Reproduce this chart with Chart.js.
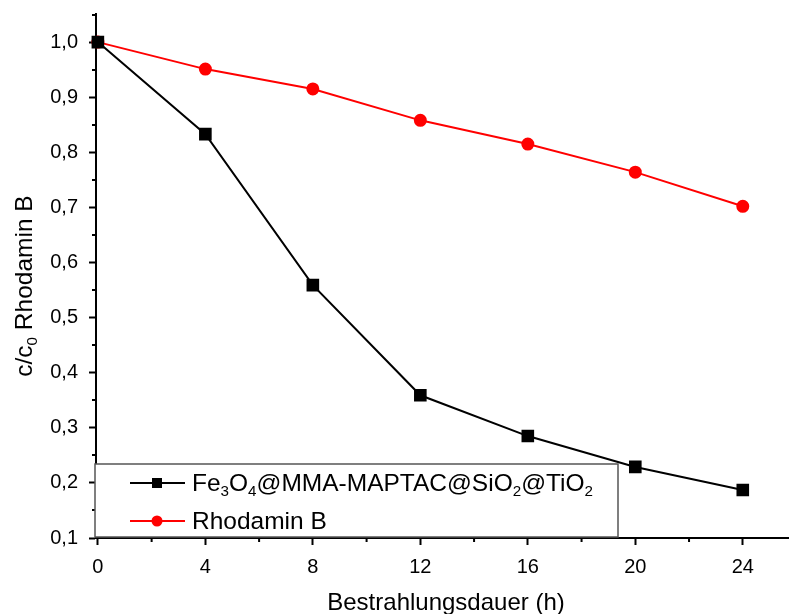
<!DOCTYPE html>
<html lang="de">
<head>
<meta charset="UTF-8">
<title>Abbau Rhodamin B</title>
<script src="https://cdn.jsdelivr.net/npm/chart.js@4.4.1/dist/chart.umd.min.js"></script>
<style>
  body { margin: 0; background: #fff; }
  #chart { display: block; }
</style>
</head>
<body>
<canvas id="chart" width="789" height="614"></canvas>
<script>
  const hours = [0, 4, 8, 12, 16, 20, 24];
  const catalyst = [1.0, 0.833, 0.559, 0.359, 0.285, 0.229, 0.187];
  const rhodamine = [1.0, 0.951, 0.915, 0.858, 0.815, 0.764, 0.702];
  const xTicks = [0, 4, 8, 12, 16, 20, 24];
  const yTicks = [0.1, 0.2, 0.3, 0.4, 0.5, 0.6, 0.7, 0.8, 0.9, 1.0];

  const FONT = '"Liberation Sans", Arial, sans-serif';

  // text with subscripts: parts are [text, isSub]
  function drawRich(ctx, parts, x, y, size) {
    parts.forEach(([t, sub]) => {
      ctx.font = (sub ? size * 0.62 : size) + 'px ' + FONT;
      ctx.fillText(t, x, y + (sub ? size * 0.3 : 0));
      x += ctx.measureText(t).width;
    });
    return x;
  }

  function richWidth(ctx, parts, size) {
    let w = 0;
    parts.forEach(([t, sub]) => {
      ctx.font = (sub ? size * 0.62 : size) + 'px ' + FONT;
      w += ctx.measureText(t).width;
    });
    return w;
  }

  const decor = {
    id: 'decor',
    afterDraw(chart) {
      const ctx = chart.ctx;
      const xs = chart.scales.x, ys = chart.scales.y;
      const area = chart.chartArea;
      ctx.save();
      // minor ticks
      ctx.strokeStyle = '#000';
      ctx.lineWidth = 2;
      ctx.beginPath();
      for (let v = 0.15; v < 1.05; v += 0.1) {
        const py = Math.round(ys.getPixelForValue(v));
        ctx.moveTo(area.left - 4, py);
        ctx.lineTo(area.left, py);
      }
      for (let h = 2; h <= 26; h += 4) {
        const px = xs.getPixelForValue(h);
        if (px > area.right) break;
        ctx.moveTo(px, area.bottom);
        ctx.lineTo(px, area.bottom + 4);
      }
      ctx.stroke();

      // legend box
      const bx = area.left - 1, by = 464, bw = 523, bh = 73;
      ctx.fillStyle = '#fff';
      ctx.fillRect(bx, by, bw, bh);
      ctx.strokeStyle = '#555';
      ctx.lineWidth = 1.5;
      ctx.strokeRect(bx, by, bw, bh);

      const items = [
        { color: '#000', style: 'rect', y: 483,
          parts: [['Fe', 0], ['3', 1], ['O', 0], ['4', 1], ['@MMA-MAPTAC@SiO', 0], ['2', 1], ['@TiO', 0], ['2', 1]] },
        { color: '#ff0000', style: 'circle', y: 521, parts: [['Rhodamin B', 0]] }
      ];
      items.forEach(it => {
        ctx.strokeStyle = it.color;
        ctx.fillStyle = it.color;
        ctx.lineWidth = 2;
        ctx.beginPath();
        ctx.moveTo(130, it.y);
        ctx.lineTo(185, it.y);
        ctx.stroke();
        ctx.beginPath();
        if (it.style === 'rect') ctx.rect(152, it.y - 5, 10, 10);
        else ctx.arc(157, it.y, 5.5, 0, Math.PI * 2);
        ctx.fill();
        ctx.fillStyle = '#000';
        ctx.textBaseline = 'middle';
        ctx.textAlign = 'left';
        drawRich(ctx, it.parts, 192, it.y + 1, 24.5);
      });

      // axis titles
      ctx.fillStyle = '#000';
      ctx.textBaseline = 'middle';
      ctx.textAlign = 'center';
      ctx.font = '24px ' + FONT;
      ctx.fillText('Bestrahlungsdauer (h)', 446, 603);

      const yParts = [['c/c', 0], ['0', 1], [' Rhodamin B', 0]];
      ctx.translate(25, 286);
      ctx.rotate(-Math.PI / 2);
      ctx.textAlign = 'left';
      drawRich(ctx, yParts, -richWidth(ctx, yParts, 24.5) / 2, 0, 24.5);
      ctx.restore();
    }
  };

  const tickFmt = v => v.toFixed(1).replace('.', ',');

  new Chart(document.getElementById('chart'), {
    type: 'line',
    data: {
      labels: hours,
      datasets: [
        {
          label: 'Fe3O4@MMA-MAPTAC@SiO2@TiO2',
          data: hours.map((h, i) => ({ x: h, y: catalyst[i] })),
          borderColor: '#000',
          backgroundColor: '#000',
          borderWidth: 2,
          pointStyle: 'rect',
          pointRadius: 7.5,
          pointHoverRadius: 7.5,
          clip: false
        },
        {
          label: 'Rhodamin B',
          data: hours.map((h, i) => ({ x: h, y: rhodamine[i] })),
          borderColor: '#ff0000',
          backgroundColor: '#ff0000',
          borderWidth: 2,
          pointStyle: 'circle',
          pointRadius: 5.5,
          pointHoverRadius: 5.5,
          clip: false
        }
      ]
    },
    options: {
      responsive: false,
      animation: false,
      layout: { autoPadding: false, padding: { top: 14, right: 0, left: 0, bottom: 0 } },
      plugins: { legend: { display: false }, tooltip: { enabled: false } },
      scales: {
        x: {
          type: 'linear',
          min: -0.07,
          max: 25.72,
          afterBuildTicks: s => { s.ticks = xTicks.map(v => ({ value: v })); },
          afterFit: s => { s.height = 76; s.paddingLeft = 0; s.paddingRight = 0; },
          border: { display: true, color: '#000', width: 2 },
          grid: { drawOnChartArea: false, drawTicks: true, tickLength: 7, tickWidth: 2, tickColor: '#000' },
          ticks: { color: '#000', font: { family: FONT, size: 20 }, padding: 10, maxRotation: 0 }
        },
        y: {
          min: 0.1,
          max: 1.051,
          afterBuildTicks: s => { s.ticks = yTicks.map(v => ({ value: v })); },
          afterFit: s => { s.width = 96; s.paddingTop = 0; s.paddingBottom = 0; },
          border: { display: true, color: '#000', width: 2 },
          grid: { drawOnChartArea: false, drawTicks: true, tickLength: 7, tickWidth: 2, tickColor: '#000' },
          ticks: { color: '#000', font: { family: FONT, size: 20 }, padding: 11, callback: tickFmt }
        }
      }
    },
    plugins: [decor]
  });
</script>
</body>
</html>
